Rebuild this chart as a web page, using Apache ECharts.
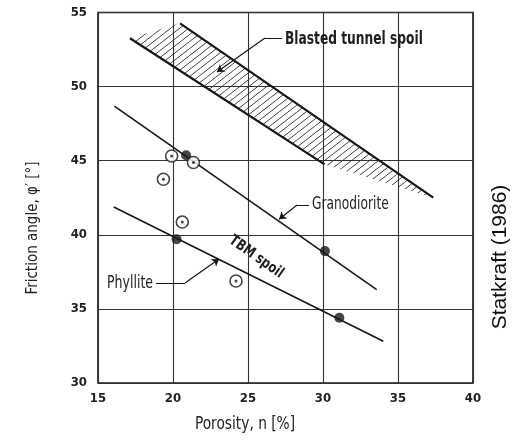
<!DOCTYPE html>
<html><head><meta charset="utf-8">
<script src="https://cdn.jsdelivr.net/npm/echarts@6/dist/echarts.min.js"></script>
<style>html,body{margin:0;padding:0;background:#fff}#c{width:513px;height:440px}</style>
</head><body><div id="c"></div>
<script>
// ---- data ----
const xTicks = [15, 20, 25, 30, 35, 40];
const yTicks = [30, 35, 40, 45, 50, 55];
const granodioriteLine = [[16.09, 48.68], [33.58, 36.30]];
const phylliteLine = [[16.05, 41.88], [34.02, 32.82]];
const granodioriteFilled = [[20.87, 45.37], [30.13, 38.90]];
const phylliteFilled = [[20.24, 39.70], [31.09, 34.40]];
const tbmOpen = [[19.91, 45.32], [21.36, 44.88], [19.36, 43.75], [20.62, 40.86], [24.20, 36.88]];
const bandUpper = [[20.47, 54.27], [37.35, 42.51]];
const bandLower = [[17.13, 53.26], [30.10, 44.75], [37.35, 42.51]];
const bandLowerEdge = [[17.13, 53.26], [30.10, 44.75]];
// annotation leaders (data coords)
const leaderFlat = [
  [[27.27, 53.28], [26.13, 53.28]],
  [[29.07, 42.01], [28.27, 42.01]],
  [[18.87, 36.75], [20.80, 36.75]]
];
const leaderArrow = [
  [[26.13, 53.28], [22.93, 50.99]],
  [[28.27, 42.01], [27.07, 41.05]],
  [[20.80, 36.75], [23.07, 38.37]]
];
const labels = [
  {text: 'Blasted tunnel spoil', at: [27.47, 53.14], align: 'left', bold: true, size: 17, rot: 0, sx: 0.8},
  {text: 'Granodiorite', at: [29.27, 42.01], align: 'left', bold: false, size: 17, rot: 0, sx: 0.8},
  {text: 'Phyllite', at: [18.67, 36.68], align: 'right', bold: false, size: 17, rot: 0, sx: 0.82},
  {text: 'TBM spoil', at: [25.55, 38.50], align: 'center', bold: true, size: 15, rot: -35, sx: 0.85}
];

const INK = '#161616';
const FONT = '"Liberation Sans Narrow","DejaVu Sans Condensed",sans-serif';

function hatchCanvas() {
  const w = 9, h = 7;
  const c = document.createElement('canvas');
  c.width = w; c.height = h;
  const g = c.getContext('2d');
  g.strokeStyle = '#2a2a2a';
  g.lineWidth = 0.9;
  g.beginPath();
  for (const dx of [-w, 0, w]) { g.moveTo(dx, h); g.lineTo(dx + w, 0); }
  g.stroke();
  return c;
}
const hatch = hatchCanvas();

const lineStyleMain = {color: INK, width: 1.6};
const chart = echarts.init(document.getElementById('c'), null, {renderer: 'canvas'});
const option = {
  animation: false,
  backgroundColor: '#fff',
  grid: {left: 98, top: 12.5, right: 40, bottom: 57, show: true, borderColor: INK, borderWidth: 1.6, backgroundColor: 'transparent'},
  xAxis: {
    type: 'value', min: xTicks[0], max: xTicks[xTicks.length - 1], interval: 5,
    axisLine: {show: false}, axisTick: {show: false},
    splitLine: {show: true, lineStyle: {color: '#333', width: 1.1}},
    axisLabel: {color: '#222', fontFamily: FONT, fontWeight: 'bold', fontSize: 13, margin: 9}
  },
  yAxis: {
    type: 'value', min: yTicks[0], max: yTicks[yTicks.length - 1], interval: 5,
    axisLine: {show: false}, axisTick: {show: false},
    splitLine: {show: true, lineStyle: {color: '#333', width: 1.1}},
    axisLabel: {color: '#222', fontFamily: FONT, fontWeight: 'bold', fontSize: 13, margin: 11}
  },
  series: [
    {
      type: 'custom', silent: true, z: 1, data: [0],
      renderItem: function (params, api) {
        const pts = bandUpper.concat(bandLower.slice().reverse()).map(p => api.coord(p));
        return {type: 'polygon', shape: {points: pts}, style: {fill: {image: hatch, repeat: 'repeat'}, stroke: null}};
      }
    },
    {type: 'line', data: bandUpper, symbol: 'none', lineStyle: {color: INK, width: 2.2}, z: 3},
    {type: 'line', data: bandLowerEdge, symbol: 'none', lineStyle: {color: INK, width: 2.2}, z: 3},
    {type: 'line', data: granodioriteLine, symbol: 'none', lineStyle: lineStyleMain, z: 3},
    {type: 'line', data: phylliteLine, symbol: 'none', lineStyle: lineStyleMain, z: 3},
    {type: 'lines', coordinateSystem: 'cartesian2d', data: leaderFlat.map(c => ({coords: c})), symbol: ['none', 'none'], lineStyle: {color: INK, width: 1.2, opacity: 1}, z: 3},
    {type: 'lines', coordinateSystem: 'cartesian2d', data: leaderArrow.map(c => ({coords: c})), symbol: ['none', 'arrow'], symbolSize: 7, lineStyle: {color: INK, width: 1.2, opacity: 1}, itemStyle: {color: INK}, z: 3},
    {type: 'scatter', data: granodioriteFilled.concat(phylliteFilled), symbol: 'circle', symbolSize: 10, itemStyle: {color: INK}, z: 5},
    {type: 'scatter', data: tbmOpen, symbol: 'circle', symbolSize: 12, itemStyle: {color: '#fff', borderColor: INK, borderWidth: 1.6}, z: 5},
    {type: 'scatter', data: tbmOpen, symbol: 'circle', symbolSize: 3, itemStyle: {color: INK}, z: 6}
  ]
};
chart.setOption(option);

const px = p => chart.convertToPixel({gridIndex: 0}, p);
const graphics = labels.map(l => {
  const p = px(l.at);
  return {
    type: 'text', x: p[0], y: p[1], rotation: l.rot * Math.PI / 180, scaleX: l.sx, scaleY: 1, z: 10,
    style: {text: l.text, font: (l.bold ? 'bold ' : '') + l.size + 'px ' + FONT, fill: '#1e1e1e',
      align: l.align, textAlign: l.align, verticalAlign: 'middle', textVerticalAlign: 'middle'}
  };
});
graphics.push({
  type: 'text', x: 245, y: 425, scaleX: 0.9, z: 10,
  style: {text: 'Porosity, n [%]', font: '17px ' + FONT, fill: '#222', align: 'center', textAlign: 'center', verticalAlign: 'middle', textVerticalAlign: 'middle'}
});
graphics.push({
  type: 'text', x: 33, y: 228, rotation: Math.PI / 2, z: 10,
  style: {text: 'Friction angle, \u03C6\u2032 [\u00B0]', font: '15px ' + FONT, fill: '#222', align: 'center', textAlign: 'center', verticalAlign: 'middle', textVerticalAlign: 'middle'}
});
graphics.push({
  type: 'text', x: 500, y: 257, rotation: Math.PI / 2, z: 10,
  style: {text: 'Statkraft (1986)', font: '21px "Liberation Sans", Arial, sans-serif', fill: '#111', align: 'center', textAlign: 'center', verticalAlign: 'middle', textVerticalAlign: 'middle'}
});
chart.setOption({graphic: graphics});
</script></body></html>
